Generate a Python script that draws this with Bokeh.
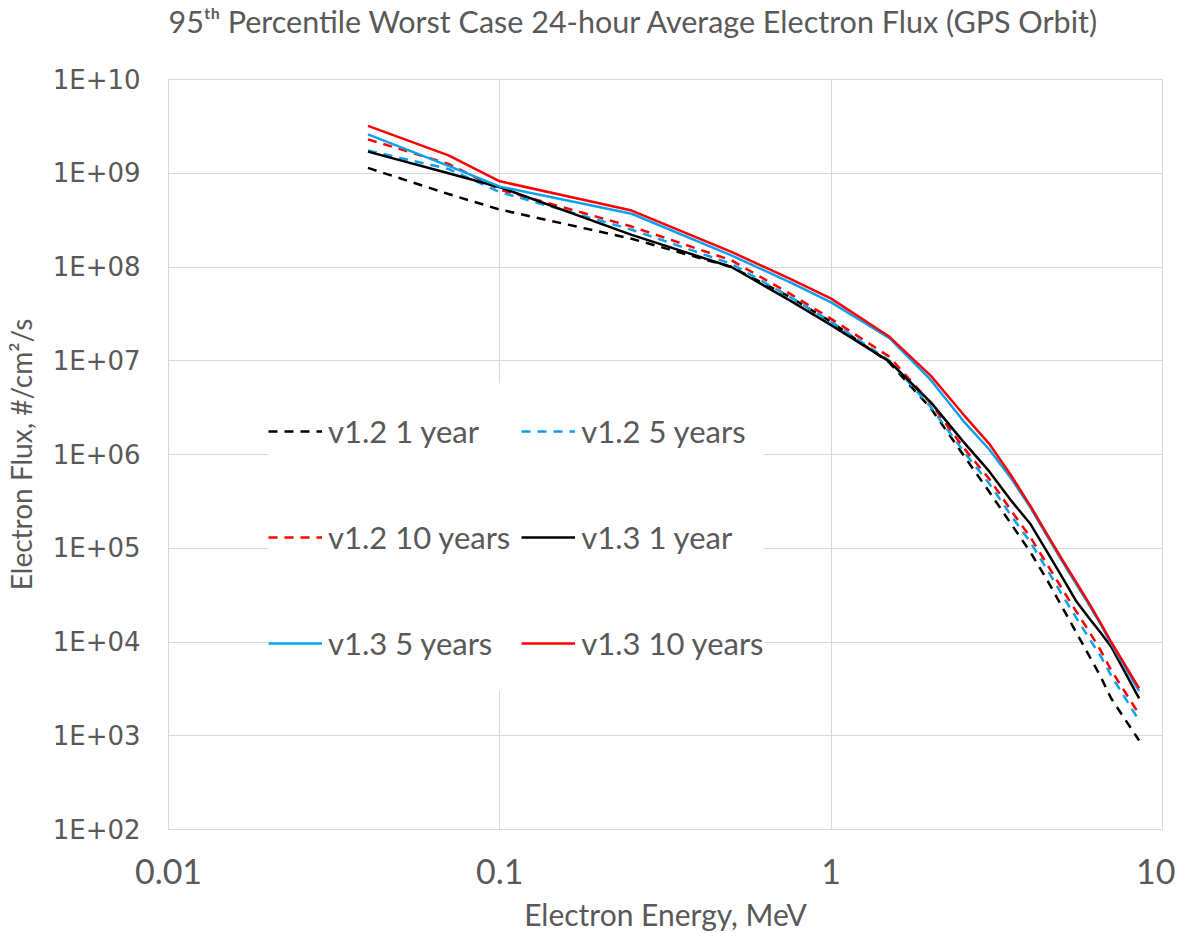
from bokeh.plotting import figure
from bokeh.models import (FixedTicker, CustomJSTickFormatter, Legend, LegendItem, Title)
from bokeh.embed import file_html
from bokeh.resources import INLINE

energy = [0.04, 0.07, 0.1, 0.25, 0.5, 0.75, 1.0, 1.5, 2.0, 2.5, 3.0, 3.5, 4.0, 4.5, 5.0, 5.5, 6.0, 6.5, 7.0, 8.5]

v12_1yr = [1.14e9, 6.0e8, 4.1e8, 2.0e8, 1.0e8, 4.8e7, 2.6e7, 9.5e6, 3.1e6, 1.0e6, 4.0e5, 1.8e5, 9.0e4, 4.5e4, 2.3e4, 1.25e4, 7.2e3, 4.3e3, 2.5e3, 8.9e2]
v12_5yr = [1.75e9, 1.11e9, 6.3e8, 2.5e8, 1.08e8, 4.8e7, 2.6e7, 1.0e7, 3.2e6, 1.1e6, 4.9e5, 2.2e5, 1.15e5, 5.8e4, 3.1e4, 1.8e4, 1.1e4, 7.1e3, 4.4e3, 1.45e3]
v12_10yr = [2.3e9, 1.26e9, 6.7e8, 2.7e8, 1.18e8, 5.2e7, 2.8e7, 1.1e7, 3.5e6, 1.2e6, 5.5e5, 2.5e5, 1.3e5, 6.6e4, 3.6e4, 2.1e4, 1.3e4, 8.2e3, 5.0e3, 1.7e3]
v13_1yr = [1.7e9, 1.0e9, 7.1e8, 2.2e8, 1.0e8, 4.4e7, 2.4e7, 9.8e6, 3.6e6, 1.38e6, 6.6e5, 3.2e5, 1.8e5, 9.0e4, 4.8e4, 2.7e4, 1.8e4, 1.26e4, 8.9e3, 2.5e3]
v13_5yr = [2.6e9, 1.2e9, 7.2e8, 3.7e8, 1.33e8, 6.9e7, 4.2e7, 1.74e7, 6.2e6, 2.3e6, 1.13e6, 5.5e5, 2.7e5, 1.32e5, 7.1e4, 4.1e4, 2.5e4, 1.55e4, 9.6e3, 3.0e3]
v13_10yr = [3.2e9, 1.55e9, 8.2e8, 4.0e8, 1.45e8, 7.5e7, 4.6e7, 1.8e7, 6.9e6, 2.7e6, 1.3e6, 5.9e5, 2.8e5, 1.38e5, 7.4e4, 4.3e4, 2.6e4, 1.6e4, 1.0e4, 3.2e3]

x_ticks = [0.01, 0.1, 1, 10]
y_ticks = [1e2, 1e3, 1e4, 1e5, 1e6, 1e7, 1e8, 1e9, 1e10]
title_text = "95ᵗʰ Percentile Worst Case 24-hour Average Electron Flux (GPS Orbit)"

BLACK = "#000000"
BLUE = "#0AA2EE"
RED = "#FF0000"
GREY = "#595959"
GRID = "#D9D9D9"
FONT = "Lato"

p = figure(width=1175, height=934, x_axis_type="log", y_axis_type="log",
           x_range=(0.01, 10), y_range=(1e2, 1e10),
           output_backend="svg", toolbar_location=None,
           min_border_left=165, min_border_right=13, min_border_top=77, min_border_bottom=99)

p.title.text = title_text
p.title.align = "left"
p.title.offset = 0
p.title.text_font = FONT
p.title.text_font_size = "30.5px"
p.title.text_color = GREY
p.title.text_font_style = "normal"
p.title.standoff = 0
p.title.vertical_align = "bottom"

# spacer between title and plot frame
p.add_layout(Title(text=" ", text_font=FONT, text_font_size="20px", standoff=15), "above")

p.outline_line_color = GRID
p.background_fill_color = "white"

for ax in (p.xaxis[0], p.yaxis[0]):
    ax.axis_line_color = GRID
    ax.major_tick_line_color = None
    ax.minor_tick_line_color = None
    ax.major_tick_out = 0
    ax.major_tick_in = 0
    ax.major_label_text_color = GREY
    ax.axis_label_text_color = GREY
    ax.axis_label_text_font = FONT
    ax.axis_label_text_font_style = "normal"

p.xaxis.ticker = FixedTicker(ticks=x_ticks)
p.xaxis.formatter = CustomJSTickFormatter(code="return String(tick);")
p.xaxis.major_label_text_font = FONT
p.xaxis.major_label_text_font_size = "34px"
p.xaxis.major_label_standoff = 29
p.xaxis.axis_label = "Electron Energy, MeV"
p.xaxis.axis_label_text_font_size = "30px"
p.xaxis.axis_label_standoff = 9

p.yaxis.ticker = FixedTicker(ticks=y_ticks)
p.yaxis.formatter = CustomJSTickFormatter(
    code="var e = Math.round(Math.log10(tick)); return '1E+' + (e < 10 ? '0' + e : e);")
p.yaxis.major_label_text_font = "DejaVu Sans"
p.yaxis.major_label_text_font_size = "26px"
p.yaxis.major_label_standoff = 28
p.yaxis.axis_label = "Electron Flux, #/cm²/s"
p.yaxis.axis_label_text_font_size = "28px"
p.yaxis.axis_label_standoff = 12

p.xgrid.ticker = FixedTicker(ticks=x_ticks)
p.ygrid.ticker = FixedTicker(ticks=y_ticks)
p.xgrid.grid_line_color = GRID
p.ygrid.grid_line_color = GRID
p.xgrid.minor_grid_line_color = None
p.ygrid.minor_grid_line_color = None

W = 2.5
DASH = "9 7"
r1 = p.line(energy, v12_1yr, line_color=BLACK, line_width=W, line_dash=DASH)
r2 = p.line(energy, v12_5yr, line_color=BLUE, line_width=W, line_dash=DASH)
r3 = p.line(energy, v12_10yr, line_color=RED, line_width=W, line_dash=DASH)
r4 = p.line(energy, v13_1yr, line_color=BLACK, line_width=W)
r5 = p.line(energy, v13_5yr, line_color=BLUE, line_width=W)
r6 = p.line(energy, v13_10yr, line_color=RED, line_width=W)

legend = Legend(items=[
    LegendItem(label="v1.2 1 year", renderers=[r1]),
    LegendItem(label="v1.2 5 years", renderers=[r2]),
    LegendItem(label="v1.2 10 years", renderers=[r3]),
    LegendItem(label="v1.3 1 year", renderers=[r4]),
    LegendItem(label="v1.3 5 years", renderers=[r5]),
    LegendItem(label="v1.3 10 years", renderers=[r6]),
], location=(100, 139), orientation="horizontal", ncols=2)
legend.label_text_font = FONT
legend.label_text_font_size = "31px"
legend.label_text_color = GREY
legend.label_height = 95
legend.glyph_height = 20
legend.glyph_width = 54
legend.label_standoff = 6
legend.spacing = 11
legend.padding = 6
legend.margin = 0
legend.border_line_color = None
legend.background_fill_color = "white"
legend.background_fill_alpha = 1.0
p.add_layout(legend)

open("out.html", "w").write(file_html(p, INLINE))
